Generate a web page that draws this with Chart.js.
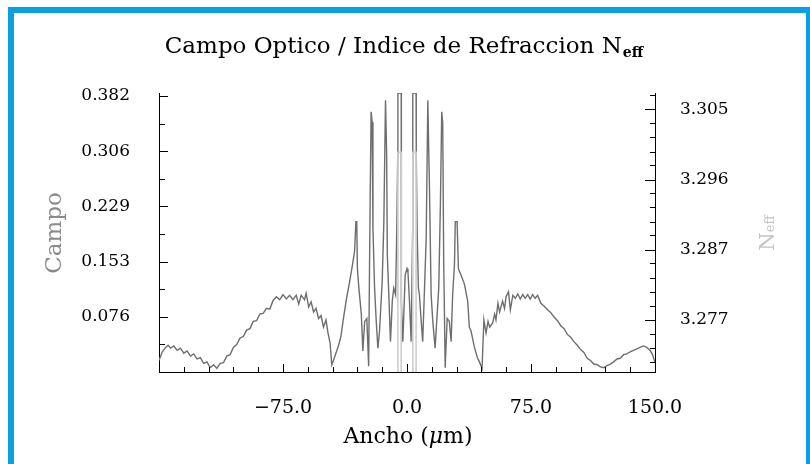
<!DOCTYPE html>
<html>
<head>
<meta charset="utf-8">
<script src="https://cdn.jsdelivr.net/npm/chart.js@4.4.1/dist/chart.umd.min.js"></script>
<style>
  html, body { margin: 0; padding: 0; background: #fff; }
  #wrap { position: relative; width: 810px; height: 464px; overflow: hidden; }
  #frame { position: absolute; left: 8px; top: 7px; width: 804px; height: 500px;
           border: 6px solid #0aa0e2; box-sizing: border-box; pointer-events: none; }
  canvas { position: absolute; left: 0; top: 0; }
</style>
</head>
<body>
<div id="wrap">
  <canvas id="chart" width="810" height="464"></canvas>
  <div id="frame"></div>
</div>
<script>
// Campo optico (field) profile across the width, in um
const fieldX = [
  -150, -148, -146, -144.5, -143, -141, -139, -137, -135, -133, -131, -129, -127, -125, -123, -121,
  -119, -117, -115, -113, -111, -109, -107, -105, -103, -101, -99, -97, -95, -93, -91, -89, -87, -85,
  -83, -81, -79, -77, -75, -73, -71, -69, -67, -65.5, -64, -62, -61, -59.5, -58, -56.5, -55, -53.5,
  -52, -50.5, -49, -47.8, -46.5, -45.5, -44.5, -43, -41.5, -40, -38.7, -36.7, -34.7, -33, -31.7,
  -30.9, -30.4, -30.0, -29.1, -27.6, -26.7, -25.6, -24.3, -23.2, -22.3, -21.7, -21.1, -20.6, -19.6,
  -18.6, -17.6, -16.6, -15.0, -14.0, -13.0, -12.3, -11.9, -11.0, -10.0, -8.9, -8.0, -6.9, -6.2,
  -5.6, -5.5, -3.5, -3.4, -2.5, -1.1, 0,
  0.6, 1.5, 2.5, 3.4, 3.5, 5.5, 5.6, 6.2, 6.9, 7.5, 8.6, 9.5, 10.6, 11.6, 12.6, 13.2, 13.6, 14.6,
  15.6, 17.0, 18.2, 19.2, 20.2, 21.0, 21.6, 22.2, 23.1, 24.3, 25.6, 26.7, 27.6, 28.7, 29.2, 30.3,
  31.1, 32.7, 34.7, 36.7, 37.7, 38.7, 40.7, 42.5, 43.8, 45.4, 46.5, 47.8, 49, 50, 51.8, 53, 53.8,
  55, 56, 57.8, 59, 59.9, 61.4, 62.5, 64, 65.5, 67, 68.5, 70, 71.5, 73, 74.5, 76, 77.5, 79, 81, 83,
  85, 87, 89, 91, 93, 95, 97, 99, 101, 103, 105, 107, 109, 111, 113, 115, 117, 119, 121, 123, 125,
  127, 129, 131, 133, 135, 137, 139, 141, 143, 145, 147, 148.5, 150
];
const fieldY = [
  0.016, 0.028, 0.034, 0.037, 0.033, 0.036, 0.030, 0.033, 0.026, 0.029, 0.022, 0.025, 0.018, 0.020,
  0.012, 0.014, 0.006, 0.010, 0.005, 0.012, 0.013, 0.022, 0.024, 0.034, 0.038, 0.047, 0.049, 0.058,
  0.060, 0.070, 0.071, 0.080, 0.081, 0.088, 0.087, 0.099, 0.104, 0.100, 0.107, 0.101, 0.106, 0.100,
  0.106, 0.094, 0.106, 0.100, 0.109, 0.090, 0.097, 0.083, 0.088, 0.074, 0.078, 0.062, 0.072, 0.054,
  0.040, 0.010, 0.016, 0.026, 0.036, 0.049, 0.070, 0.100, 0.125, 0.148, 0.167, 0.208, 0.208, 0.143,
  0.116, 0.079, 0.029, 0.070, 0.074, 0.008, 0.236, 0.360, 0.346, 0.199, 0.116, 0.070, 0.033, 0.057,
  0.126, 0.208, 0.376, 0.300, 0.162, 0.107, 0.042, 0.098, 0.116, 0.107, 0.194, 0.300, 0.386, 0.386,
  0.098, 0.042, 0.134, 0.143,
  0.138, 0.098, 0.042, 0.194, 0.386, 0.386, 0.300, 0.189, 0.116, 0.107, 0.070, 0.042, 0.116, 0.185,
  0.376, 0.300, 0.254, 0.107, 0.070, 0.033, 0.079, 0.116, 0.231, 0.360, 0.345, 0.153, 0.006, 0.074,
  0.070, 0.042, 0.107, 0.148, 0.208, 0.208, 0.143, 0.134, 0.122, 0.098, 0.062, 0.057, 0.035, 0.020,
  0.014, 0.005, 0.072, 0.054, 0.070, 0.062, 0.068, 0.080, 0.072, 0.095, 0.083, 0.098, 0.088, 0.104,
  0.111, 0.086, 0.106, 0.102, 0.108, 0.101, 0.107, 0.102, 0.107, 0.101, 0.107, 0.102, 0.106, 0.095,
  0.091, 0.086, 0.082, 0.076, 0.071, 0.064, 0.060, 0.052, 0.048, 0.042, 0.037, 0.031, 0.027, 0.019,
  0.016, 0.011, 0.010, 0.007, 0.006, 0.009, 0.011, 0.014, 0.018, 0.019, 0.024, 0.025, 0.028, 0.030,
  0.032, 0.034, 0.036, 0.034, 0.030, 0.024, 0.013
];

// effective index profile (two narrow cores)
const neffX = [-150, -5.5, -5.5, -3.5, -3.5, 3.5, 3.5, 5.5, 5.5, 150];
const neffY = [3.262, 3.262, 3.2995, 3.2995, 3.262, 3.262, 3.2995, 3.2995, 3.262, 3.262];

// axis ticks
const xTicks = [-150, -135, -120, -105, -90, -75, -60, -45, -30, -15, 0,
                15, 30, 45, 60, 75, 90, 105, 120, 135, 150];
const xLabels = [-75, 0, 75, 150];
const campoTicks = [0.0382, 0.0764, 0.1146, 0.1528, 0.191, 0.2292, 0.2674, 0.3056, 0.3438, 0.382];
const campoLabels = [0.0764, 0.1528, 0.2292, 0.3056, 0.382];
const neffTicks = [3.2717, 3.2736, 3.2754, 3.2773, 3.2792, 3.2810, 3.2829, 3.2848, 3.2866, 3.2885,
                   3.2903, 3.2922, 3.2941, 3.2959, 3.2978, 3.2996, 3.3015, 3.3034, 3.3052, 3.3071];
const neffLabels = [3.2773, 3.2866, 3.2959, 3.3052];

const FONT = '"DejaVu Serif", serif';
const isIn = (list, v) => list.some(m => Math.abs(m - v) < 1e-6);
const setTicks = list => scale => { scale.ticks = list.map(v => ({ value: v })); };

// tick marks pointing into the plot
const inwardTicks = {
  id: 'inwardTicks',
  afterDatasetsDraw(chart) {
    const { ctx, chartArea: a, scales } = chart;
    ctx.save();
    ctx.strokeStyle = '#000';
    ctx.lineWidth = 1;
    ctx.beginPath();
    scales.x.ticks.forEach(t => {
      const p = Math.round(scales.x.getPixelForValue(t.value)) + 0.5;
      const len = isIn(xLabels, t.value) ? 8 : 5;
      ctx.moveTo(p, a.bottom); ctx.lineTo(p, a.bottom - len);
    });
    scales.y.ticks.forEach(t => {
      const p = Math.round(scales.y.getPixelForValue(t.value)) + 0.5;
      const len = isIn(campoLabels, t.value) ? 9 : 6;
      ctx.moveTo(a.left, p); ctx.lineTo(a.left + len, p);
    });
    scales.y2.ticks.forEach(t => {
      const p = Math.round(scales.y2.getPixelForValue(t.value)) + 0.5;
      const len = isIn(neffLabels, t.value) ? 10 : 5;
      ctx.moveTo(a.right, p); ctx.lineTo(a.right - len, p);
    });
    ctx.stroke();
    ctx.restore();
  }
};

// title and axis titles (mixed fonts / subscripts)
const texts = {
  id: 'texts',
  afterDraw(chart) {
    const ctx = chart.ctx;
    ctx.save();
    ctx.textAlign = 'left';
    ctx.textBaseline = 'alphabetic';

    // title
    const main = 'Campo Optico / Indice de Refraccion N';
    ctx.font = `23px ${FONT}`;
    const w1 = ctx.measureText(main).width;
    ctx.font = `bold 14px ${FONT}`;
    const w2 = ctx.measureText('eff').width;
    const tx = 404 - (w1 + w2 + 1) / 2;
    ctx.fillStyle = '#000';
    ctx.font = `23px ${FONT}`;
    ctx.fillText(main, tx, 53);
    ctx.font = `bold 14px ${FONT}`;
    ctx.fillText('eff', tx + w1 + 1, 57);

    // x axis title
    ctx.font = `22px ${FONT}`;
    const a1 = ctx.measureText('Ancho (').width;
    const a3 = ctx.measureText('m)').width;
    ctx.font = `italic 22px ${FONT}`;
    const a2 = ctx.measureText('μ').width;
    let ax = 408 - (a1 + a2 + a3) / 2;
    ctx.font = `22px ${FONT}`;
    ctx.fillText('Ancho (', ax, 443);
    ctx.font = `italic 22px ${FONT}`;
    ctx.fillText('μ', ax + a1, 443);
    ctx.font = `22px ${FONT}`;
    ctx.fillText('m)', ax + a1 + a2, 443);

    // left axis title
    ctx.save();
    ctx.translate(55, 233);
    ctx.rotate(-Math.PI / 2);
    ctx.font = `23px ${FONT}`;
    ctx.fillStyle = '#8a8a8a';
    ctx.textAlign = 'center';
    ctx.textBaseline = 'middle';
    ctx.fillText('Campo', 0, 0);
    ctx.restore();

    // right axis title
    ctx.save();
    ctx.translate(766, 233);
    ctx.rotate(-Math.PI / 2);
    ctx.fillStyle = '#c4c4c4';
    ctx.font = `21px ${FONT}`;
    const n1 = ctx.measureText('N').width;
    ctx.font = `13px ${FONT}`;
    const n2 = ctx.measureText('eff').width;
    const nx = -(n1 + n2) / 2;
    ctx.font = `21px ${FONT}`;
    ctx.fillText('N', nx, 8);
    ctx.font = `13px ${FONT}`;
    ctx.fillText('eff', nx + n1, 8);
    ctx.restore();

    ctx.restore();
  }
};

new Chart(document.getElementById('chart'), {
  type: 'line',
  data: {
    datasets: [
      {
        label: 'Neff',
        yAxisID: 'y2',
        order: 0,
        data: neffX.map((x, i) => ({ x, y: neffY[i] })),
        borderColor: '#cdcdcd',
        borderWidth: 1.6,
        pointRadius: 0,
        tension: 0,
      },
      {
        label: 'Campo',
        yAxisID: 'y',
        order: 1,
        data: fieldX.map((x, i) => ({ x, y: fieldY[i] })),
        borderColor: '#6e6e6e',
        borderWidth: 1.4,
        pointRadius: 0,
        tension: 0,
      },
    ],
  },
  options: {
    responsive: false,
    animation: false,
    devicePixelRatio: 1,
    layout: { padding: { top: 93, left: 0, right: 0, bottom: 0 } },
    plugins: { legend: { display: false }, tooltip: { enabled: false }, title: { display: false } },
    scales: {
      x: {
        type: 'linear',
        min: -150, max: 150,
        afterBuildTicks: setTicks(xTicks),
        afterFit: s => { s.height = 92; },
        grid: { display: false },
        border: { display: true, color: '#000', width: 1 },
        ticks: {
          autoSkip: false, maxRotation: 0, padding: 17, color: '#000',
          font: { family: FONT, size: 19 },
          callback: v => isIn(xLabels, v) ? v.toFixed(1).replace('-', '\u2212') : '',
        },
      },
      y: {
        type: 'linear',
        position: 'left',
        min: 0, max: 0.386,
        afterBuildTicks: setTicks(campoTicks),
        afterFit: s => { s.width = 159; },
        grid: { display: false },
        border: { display: true, color: '#000', width: 1 },
        ticks: {
          autoSkip: false, padding: 21, color: '#000',
          font: { family: FONT, size: 17 },
          callback: v => isIn(campoLabels, v) ? v.toFixed(3) : '',
        },
      },
      y2: {
        type: 'linear',
        position: 'right',
        min: 3.27041, max: 3.30736,
        afterBuildTicks: setTicks(neffTicks),
        afterFit: s => { s.width = 155; },
        grid: { display: false },
        border: { display: true, color: '#000', width: 1 },
        ticks: {
          autoSkip: false, padding: 17, color: '#000',
          font: { family: FONT, size: 17 },
          callback: v => isIn(neffLabels, v) ? v.toFixed(3) : '',
        },
      },
    },
  },
  plugins: [inwardTicks, texts],
});
</script>
</body>
</html>
